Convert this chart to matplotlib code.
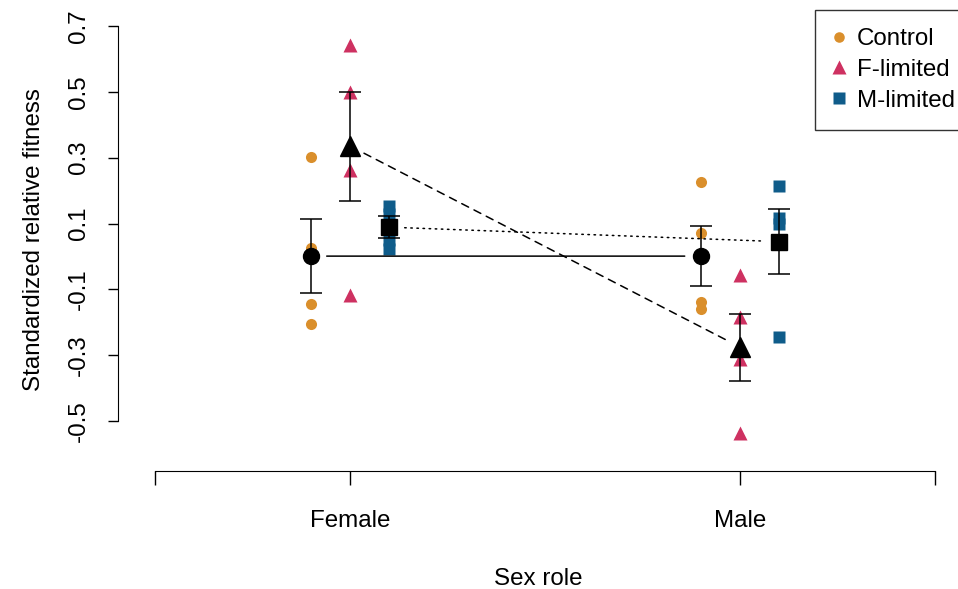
import numpy as np
import matplotlib.pyplot as plt

plt.rcParams['font.family'] = ['Liberation Sans', 'DejaVu Sans']

# raw points
sex_roles = ['Female', 'Male']
control_pts = [[0.302, 0.026, -0.144, -0.205], [0.225, 0.070, -0.137, -0.160]]
flim_pts = [[0.642, 0.500, 0.263, -0.117], [-0.056, -0.183, -0.313, -0.537]]
mlim_pts = [[0.153, 0.130, 0.050, 0.023], [0.214, 0.118, 0.100, -0.244]]

# group means and standard errors
control_mean = [0.001, 0.001]
control_se = [0.113, 0.091]
flim_mean = [0.335, -0.276]
flim_se = [0.166, 0.102]
mlim_mean = [0.089, 0.045]
mlim_se = [0.034, 0.099]

c_orange = '#DA8F2C'
c_red = '#CE3161'
c_blue = '#0F5C8A'
fs = 17.4

fig = plt.figure(figsize=(9.58, 5.89), dpi=100)
ax = fig.add_axes([118 / 958, 118 / 589, 840 / 958, 462 / 589])

pos = np.array([1, 2])
groups = [
    (control_pts, control_mean, control_se, -0.1, 'o', c_orange, 8, 11.5, 'Control', '-'),
    (flim_pts, flim_mean, flim_se, 0.0, '^', c_red, 10, 14, 'F-limited', (0, (5, 4))),
    (mlim_pts, mlim_mean, mlim_se, 0.1, 's', c_blue, 8.5, 11.5, 'M-limited', (0, (1, 3))),
]

handles = []
for pts, mean, se, off, mk, col, ms, mms, lab, ls in groups:
    x = pos + off
    for xi, p in zip(x, pts):
        ax.plot([xi] * len(p), p, mk, color=col, ms=ms, mec='none', zorder=2)
    h, = ax.plot([], [], mk, color=col, ms=ms * 0.95, mec='none', label=lab)
    handles.append(h)
    ax.errorbar(x, mean, yerr=se, fmt='none', ecolor='black', elinewidth=1.1,
                capsize=8, capthick=1.1, zorder=3)
    ax.plot(x, mean, mk, color='black', ms=mms, zorder=4)
    # connecting line with gaps around the points (like R type="b")
    ax.annotate('', xy=(x[1], mean[1]), xytext=(x[0], mean[0]),
                arrowprops=dict(arrowstyle='-', color='black', lw=1.1, ls=ls,
                                shrinkA=11, shrinkB=12), zorder=3)

ax.set_xlim(0.404, 2.558)
ax.set_ylim(-0.652, 0.752)

for s in ['top', 'right']:
    ax.spines[s].set_visible(False)
ax.spines['left'].set_bounds(-0.5, 0.7)
ax.spines['bottom'].set_bounds(0.5, 2.5)

ax.set_xticks([0.5, 1, 2, 2.5])
ax.set_xticklabels(['', sex_roles[0], sex_roles[1], ''], fontsize=fs)
yt = [-0.5, -0.3, -0.1, 0.1, 0.3, 0.5, 0.7]
ax.set_yticks(yt)
ax.set_yticklabels([f'{v:.1f}' for v in yt], fontsize=fs, rotation=90, va='center')
ax.tick_params(axis='x', length=10, width=1, pad=18)
ax.tick_params(axis='y', length=7, width=1, pad=13)

ax.set_xlabel('Sex role', fontsize=fs, labelpad=26)
ax.set_ylabel('Standardized relative fitness', fontsize=fs, labelpad=17)

leg = ax.legend(handles=handles, loc='upper right', bbox_to_anchor=(973 / 958, 1 - 10 / 589),
                bbox_transform=fig.transFigure, fontsize=fs, frameon=True,
                fancybox=False, edgecolor='black', handlelength=0.5,
                handletextpad=0.5, labelspacing=0.36, borderpad=0.75,
                borderaxespad=0)
leg.get_frame().set_linewidth(1)

fig.savefig('out.png', dpi=100)
